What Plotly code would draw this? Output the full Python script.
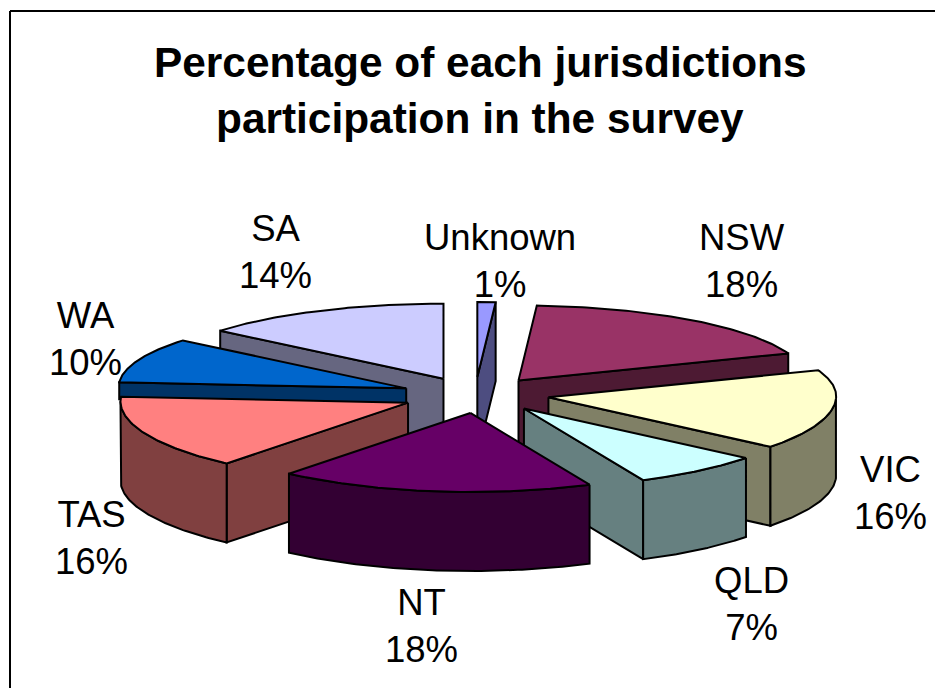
import numpy as np
import plotly.graph_objects as go

CATEGORIES = ["Unknown", "NSW", "VIC", "QLD", "NT", "TAS", "WA", "SA"]
PERCENT = [1, 18, 16, 7, 18, 16, 10, 14]
TOP_COLORS = ["#9999FF", "#993366", "#FFFFCC", "#CCFFFF", "#660066", "#FF8080", "#0066CC", "#CCCCFF"]
SIDE_COLORS = ["#4D4D80", "#4D1A33", "#808066", "#668080", "#330033", "#804040", "#003366", "#666680"]
TITLE_LINES = ["Percentage of each jurisdictions", "participation in the survey"]
LABEL_XY = [(500, 261), (742, 261), (890, 493), (751, 604), (421, 626), (91, 538), (85, 339), (275, 252)]

CX, CY = 475, 395      # pie centre in page pixels
RX = 292               # horizontal radius of the tilted disc
RY_BACK, RY_FRONT = 75, 79
EX, EY = 74, 18        # explosion offset
DEPTH = 79
PHASE = np.radians(4.5)  # slight view distortion towards the front
SQUEEZE = 0.03
SIDEWAYS_FACE_DEPTH = 17  # a cut face seen almost edge-on stays behind its neighbour

fractions = np.array(PERCENT) / sum(PERCENT)
edges = np.concatenate([[0], np.cumsum(fractions)]) * 2 * np.pi

fig = go.Figure()

def poly(xs, ys, color):
    fig.add_trace(go.Scatter(
        x=list(xs) + [xs[0]], y=list(ys) + [ys[0]], mode="lines", fill="toself",
        fillcolor=color, line=dict(color="black", width=2), hoverinfo="skip", showlegend=False))

def rim(t):
    w = np.sin(t / 2) ** 2
    a = t + PHASE * w ** 2
    c = np.cos(a)
    return RX * (1 - SQUEEZE * w) * np.sin(a), -np.where(c > 0, RY_BACK, RY_FRONT) * c

mids = (edges[:-1] + edges[1:]) / 2
order = np.argsort(-np.abs(mids - np.pi))   # paint back to front

for i in order:
    a0, a1 = edges[i], edges[i + 1]
    ax = CX + EX * np.sin(mids[i])
    ay = CY - EY * np.cos(mids[i])
    t = np.linspace(a0, a1, 80)
    dx, dy = rim(t)
    arc_x, arc_y = ax + dx, ay + dy
    side = SIDE_COLORS[i]
    # radial cut faces that look towards the viewer
    if np.sin(a0) < 0:
        d = SIDEWAYS_FACE_DEPTH if abs(np.cos(a0)) < 0.2 else DEPTH
        poly([ax, arc_x[0], arc_x[0], ax], [ay, arc_y[0], arc_y[0] + d, ay + d], side)
    if np.sin(a1) > 0:
        poly([ax, arc_x[-1], arc_x[-1], ax], [ay, arc_y[-1], arc_y[-1] + DEPTH, ay + DEPTH], side)
    # outer wall (front half only)
    mask = np.cos(t) < 0
    if mask.sum() > 1:
        wx, wy = arc_x[mask], arc_y[mask]
        poly(np.r_[wx, wx[::-1]], np.r_[wy, wy[::-1] + DEPTH], side)
    poly(np.r_[ax, arc_x], np.r_[ay, arc_y], TOP_COLORS[i])

annotations = []
for y, line in zip((62, 118), TITLE_LINES):
    annotations.append(dict(x=480, y=y, text=f"<b>{line}</b>", showarrow=False,
                            font=dict(family="Liberation Sans", size=42.4, color="black")))
for cat, pct, (x, y) in zip(CATEGORIES, PERCENT, LABEL_XY):
    annotations.append(dict(x=x, y=y, text=f"{cat}<br>{pct}%", showarrow=False,
                            font=dict(family="Liberation Sans", size=36.5, color="black")))

fig.update_layout(
    width=935, height=688, margin=dict(l=0, r=0, t=0, b=0),
    paper_bgcolor="white", plot_bgcolor="white", showlegend=False,
    xaxis=dict(range=[0, 935], visible=False, fixedrange=True),
    yaxis=dict(range=[688, 0], visible=False, fixedrange=True),
    annotations=annotations,
    shapes=[
        dict(type="line", x0=10, x1=935, y0=11, y1=11, line=dict(color="black", width=2)),
        dict(type="line", x0=10, x1=10, y0=11, y1=688, line=dict(color="black", width=2)),
    ],
)
fig.write_html("out.html", config=dict(displayModeBar=False),
               post_script="document.body.style.margin='0';document.documentElement.style.overflow='hidden';")
